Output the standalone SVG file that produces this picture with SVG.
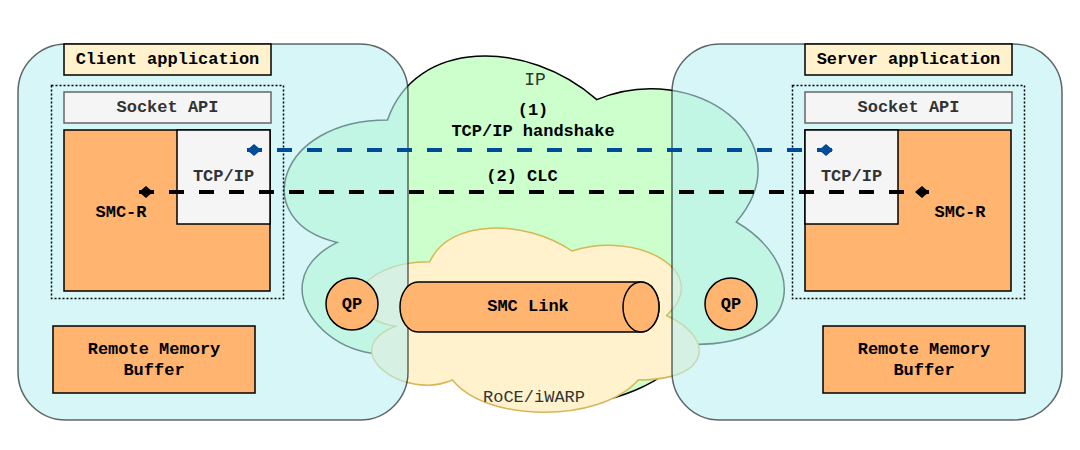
<svg xmlns="http://www.w3.org/2000/svg" width="1080" height="450" viewBox="0 0 1080 450">
<style>
text{font-family:"Liberation Mono","Courier New",monospace;font-size:17px;text-anchor:middle;dominant-baseline:central}
.b{font-weight:bold}
.g{fill:#333}
.app{fill:#bbf0f3;fill-opacity:.6;stroke:#000;stroke-opacity:.6;stroke-width:1.5}
.lbl{fill:#fff2cc;stroke:#000;stroke-width:1.5}
.dot{fill:none;stroke:#000;stroke-width:1.5;stroke-dasharray:2 2}
.api{fill:#f5f5f5;stroke:#666;stroke-width:1.5}
.or{fill:#ffb570;stroke:#000;stroke-width:1.5}
.tcp{fill:#f5f5f5;stroke:#000;stroke-width:1.5}
.ln{fill:none;stroke-width:4;stroke-dasharray:15 15}
</style>
<defs>
<marker id="dBlue" viewBox="0 0 14 12" refX="14" refY="6" markerWidth="14" markerHeight="12" markerUnits="userSpaceOnUse" orient="auto-start-reverse"><path d="M0,6 L7,0 L14,6 L7,12 Z" fill="#004c99"/></marker>
<marker id="dBlack" viewBox="0 0 14 12" refX="14" refY="6" markerWidth="14" markerHeight="12" markerUnits="userSpaceOnUse" orient="auto-start-reverse"><path d="M0,6 L7,0 L14,6 L7,12 Z" fill="#000"/></marker>
</defs>
<g id="ip-cloud">
<path d="M387.5,120 C275.9,120 248,222 337.3,242.4 C248,287.3 348.4,385.2 421,344.4 C471.2,426 638.6,426 694.4,344.4 C806,344.4 806,262.8 736.3,222 C806,140.4 694.4,58.8 596.8,99.6 C527,38.4 415.4,38.4 387.5,120 Z" fill="#ccffcc" stroke="#000" stroke-width="1.5"/>
</g>
<g id="roce-cloud">
<path d="M429.8,261.8 C354,261.8 335,315.5 395.6,326.3 C335,349.9 403.2,401.5 452.5,380 C486.6,423 600.3,423 638.2,380 C714,380 714,337 666.6,315.5 C714,272.5 638.2,229.5 571.9,251 C524.5,218.8 448.7,218.8 429.8,261.8 Z" fill="#fff2cc" stroke="#d6b656" stroke-width="1.5"/>
</g>
<g id="client-app"><rect class="app" x="18" y="44" width="390" height="376" rx="48"/></g>
<g id="server-app"><rect class="app" x="672" y="44" width="390" height="376" rx="48"/></g>
<g id="ip-label"><text x="535" y="80" class="g" style="font-size:18px">IP</text></g>
<g id="roce-label"><text x="534" y="397" class="g">RoCE/iWARP</text></g>
<g id="client-label"><rect class="lbl" x="64" y="44" width="207" height="31"/><text class="b" x="167.5" y="59.5">Client application</text></g>
<g id="server-label"><rect class="lbl" x="805" y="44" width="207" height="31"/><text class="b" x="908.5" y="59.5">Server application</text></g>
<g id="client-stack"><rect class="dot" x="51.5" y="85.5" width="232" height="213"/></g>
<g id="server-stack"><rect class="dot" x="792.5" y="85.5" width="232" height="213"/></g>
<g id="client-socket"><rect class="api" x="64" y="92" width="207" height="31"/><text class="b g" x="167.5" y="107.5">Socket API</text></g>
<g id="server-socket"><rect class="api" x="805" y="92" width="207" height="31"/><text class="b g" x="908.5" y="107.5">Socket API</text></g>
<g id="client-smcr"><rect class="or" x="64" y="130" width="206" height="161"/><text class="b" x="121" y="212">SMC-R</text></g>
<g id="client-tcp"><rect class="tcp" x="177" y="130" width="93" height="94"/><text class="b g" x="223.5" y="176">TCP/IP</text></g>
<g id="server-smcr"><rect class="or" x="805" y="130" width="206" height="161"/><text class="b" x="960" y="212">SMC-R</text></g>
<g id="server-tcp"><rect class="tcp" x="805" y="130" width="93" height="94"/><text class="b g" x="851.5" y="176">TCP/IP</text></g>
<g id="client-rmb"><rect class="or" x="53" y="326" width="202" height="67"/><text class="b" x="154" y="349">Remote Memory</text><text class="b" x="154" y="370">Buffer</text></g>
<g id="server-rmb"><rect class="or" x="823" y="326" width="202" height="67"/><text class="b" x="924" y="349">Remote Memory</text><text class="b" x="924" y="370">Buffer</text></g>
<g id="client-qp"><circle class="or" cx="352" cy="304" r="26"/><text class="b" x="352" y="304">QP</text></g>
<g id="server-qp"><circle class="or" cx="731" cy="304" r="26"/><text class="b" x="731" y="304">QP</text></g>
<g id="smc-link">
<path class="or" d="M418,282 H641 A18,25 0 0 1 641,332 H418 A18,25 0 0 1 418,282 Z"/>
<ellipse class="or" cx="641" cy="307" rx="18" ry="25"/>
<text class="b" x="528" y="306">SMC Link</text>
</g>
<g id="connectors">
<path class="ln" d="M247,150 H833" stroke="#004c99" marker-start="url(#dBlue)" marker-end="url(#dBlue)"/>
<path class="ln" d="M139,192 H929" stroke="#000" marker-start="url(#dBlack)" marker-end="url(#dBlack)"/>
<text class="b" x="533" y="110">(1)</text>
<text class="b" x="533" y="131">TCP/IP handshake</text>
<text class="b" x="522" y="176">(2) CLC</text>
</g>
</svg>
